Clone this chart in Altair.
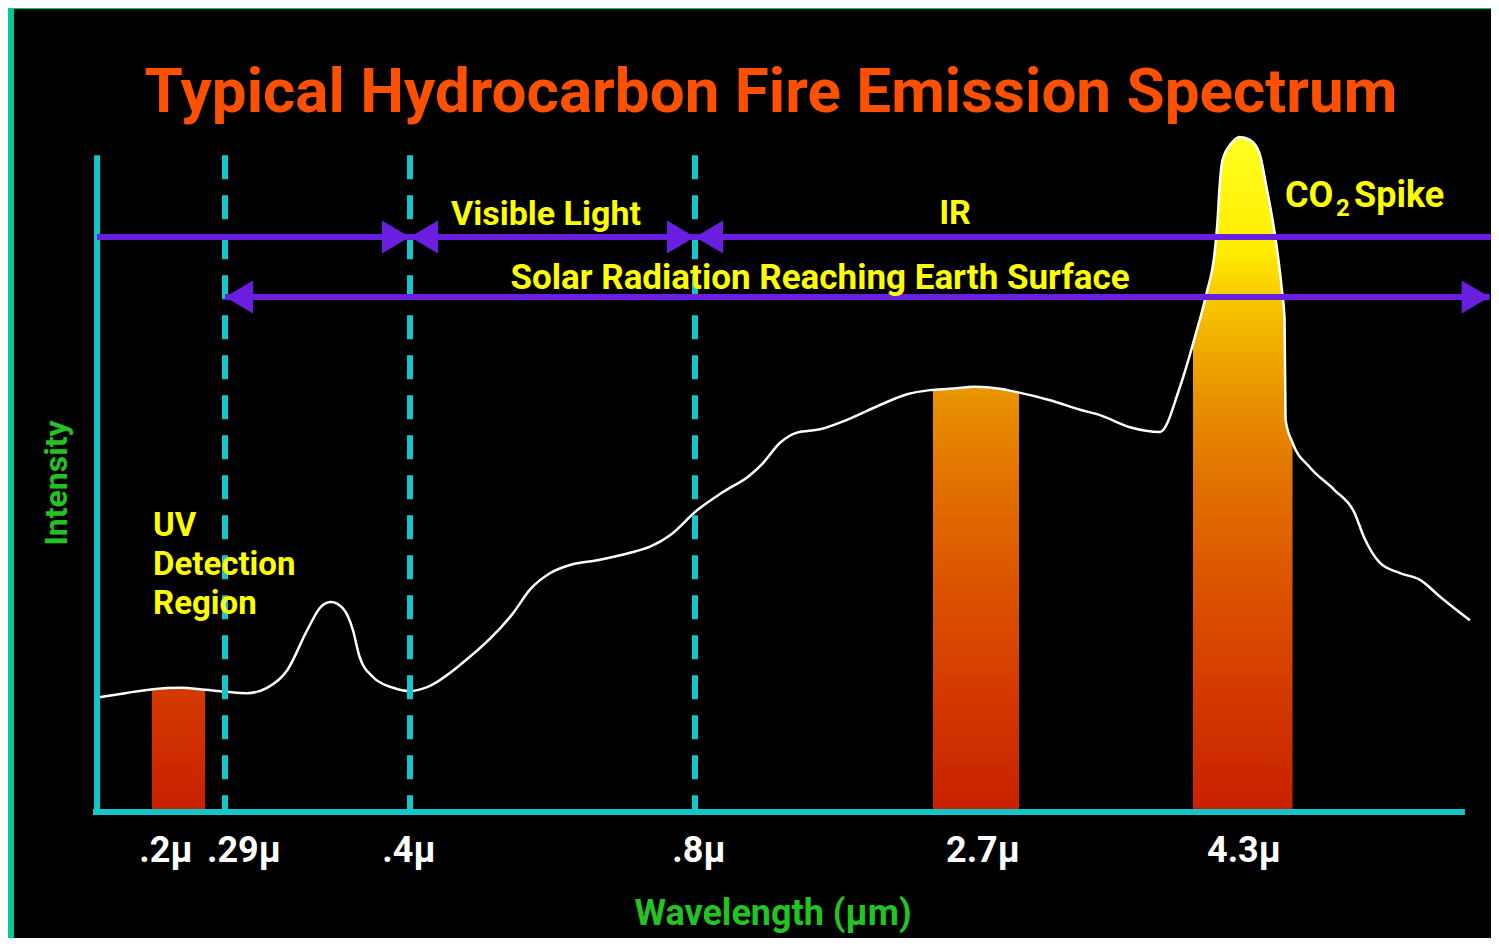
import altair as alt
import pandas as pd

# ---------------- data ----------------
tick_wl = [0.2, 0.29, 0.4, 0.8, 2.7, 4.3]
tick_labels = [".2μ", ".29μ", ".4μ", ".8μ", "2.7μ", "4.3μ"]
boundary_wl = [0.29, 0.4, 0.8]

curve_wl = [0.049, 0.099, 0.152, 0.204, 0.252, 0.291, 0.303, 0.315, 0.327, 0.339,
            0.347, 0.353, 0.360, 0.366, 0.370, 0.378, 0.390, 0.400, 0.424, 0.474,
            0.545, 0.568, 0.597, 0.625, 0.663, 0.709, 0.737, 0.765, 0.814, 0.989,
            1.172, 1.260, 1.375, 1.490, 1.645, 1.828, 2.051, 2.234, 2.389, 2.524,
            2.693, 2.844, 2.947, 3.145, 3.326, 3.446, 3.626, 3.807, 3.927, 4.017,
            4.087, 4.135, 4.153, 4.165, 4.183, 4.237, 4.285, 4.345, 4.405, 4.447,
            4.484, 4.514, 4.538, 4.556, 4.562, 4.604, 4.706, 4.856, 4.977, 5.034,
            5.130, 5.250, 5.371, 5.491, 5.671]
curve_int = [17.0, 17.6, 18.2, 18.4, 18.1, 17.8, 17.6, 18.4, 21.0, 27.0,
             30.4, 31.1, 30.2, 27.0, 23.0, 20.0, 18.4, 17.9, 18.5, 22.1,
             29.5, 32.9, 35.4, 36.6, 37.3, 38.4, 39.3, 41.0, 44.7, 47.4,
             49.9, 51.7, 54.7, 56.2, 56.7, 58.1, 60.3, 61.9, 62.5, 62.7,
             63.0, 62.7, 62.2, 61.0, 59.6, 58.8, 57.0, 56.3, 63.0, 70.4,
             76.9, 82.8, 87.7, 92.6, 96.6, 99.1, 100.0, 99.6, 97.6, 92.6,
             87.7, 82.8, 77.8, 72.9, 58.1, 54.7, 51.1, 47.7, 44.3, 40.7,
             36.9, 35.4, 34.4, 31.9, 28.4]

# detection bands (area under the curve inside each band)
uv_band_wl = [0.150, 0.204, 0.252]
uv_band_int = [18.2, 18.4, 18.1]
ir_band_wl = [2.409, 2.524, 2.693, 2.844, 2.959]
ir_band_int = [62.5, 62.7, 63.0, 62.7, 62.1]
co2_band_wl = [4.005, 4.087, 4.135, 4.153, 4.165, 4.183, 4.237, 4.285, 4.345, 4.405,
               4.447, 4.484, 4.514, 4.538, 4.556, 4.562, 4.604]
co2_band_int = [69.9, 76.9, 82.8, 87.7, 92.6, 96.6, 99.1, 100.0, 99.6, 97.6,
                92.6, 87.7, 82.8, 77.8, 72.9, 58.1, 54.7]

# range arrows: [start wl, end wl, level]
range_start = [0.045, 0.29]
range_end = [5.798, 5.79]
range_level = [85.2, 76.3]
# arrow heads
head_right_wl = [0.4, 0.8, 5.79]
head_right_lvl = [85.2, 85.2, 76.3]
head_left_wl = [0.4, 0.8, 0.29]
head_left_lvl = [85.2, 85.2, 76.3]

# axis line extents
xaxis_wl = [0.037, 5.641]
yaxis_wl = 0.045
axis_top = 97.3

# ---------------- styling ----------------
FONT = "Roboto, Liberation Sans, sans-serif"
TEAL = "#14c6c8"
PURPLE = "#6a1ee0"
YELLOW = "#ffff00"
GREEN = "#22c422"

xs = alt.Scale(domain=tick_wl, range=[164, 211, 396, 681, 962, 1228], nice=False, zero=False)
ys = alt.Scale(domain=[0, 100], range=[803, 128], nice=False, zero=False)

RAMP = [(100, (255, 255, 32)), (83, (255, 236, 0)), (76, (248, 200, 0)), (68, (240, 168, 0)),
        (62, (232, 148, 0)), (50, (226, 116, 0)), (35, (220, 86, 0)), (18, (212, 58, 0)),
        (0, (200, 32, 0))]


def col_at(v):
    for (v1, c1), (v2, c2) in zip(RAMP[:-1], RAMP[1:]):
        if v2 <= v <= v1:
            t = (v1 - v) / (v1 - v2)
            c = [round(a + (b - a) * t) for a, b in zip(c1, c2)]
            return "#%02x%02x%02x" % tuple(c)
    return "#%02x%02x%02x" % RAMP[0][1]


def gradient(vtop):
    stops = [alt.GradientStop(color=col_at(vtop), offset=0)]
    for v, c in RAMP:
        if v < vtop:
            stops.append(alt.GradientStop(color="#%02x%02x%02x" % c, offset=(vtop - v) / vtop))
    return alt.Gradient(gradient="linear", stops=stops, x1=0, x2=0, y1=0, y2=1)


def band(wl, iv):
    df = pd.DataFrame({"wl": wl, "v": iv})
    return alt.Chart(df).mark_area(interpolate="monotone", color=gradient(max(iv)), opacity=1).encode(
        x=alt.X("wl:Q", scale=xs, axis=None), y=alt.Y("v:Q", scale=ys, axis=None))


def txt(s, x, y, size, color, align="center", baseline="alphabetic", angle=0):
    return alt.Chart(pd.DataFrame({"t": [s]})).mark_text(
        font=FONT, fontWeight="bold", fontSize=size, color=color, align=align,
        baseline=baseline, angle=angle).encode(x=alt.value(x), y=alt.value(y), text="t:N")


layers = [band(uv_band_wl, uv_band_int), band(ir_band_wl, ir_band_int), band(co2_band_wl, co2_band_int)]

curve_df = pd.DataFrame({"wl": curve_wl, "v": curve_int})
layers.append(alt.Chart(curve_df).mark_line(interpolate="monotone", color="white", strokeWidth=2.5).encode(
    x=alt.X("wl:Q", scale=xs, axis=None), y=alt.Y("v:Q", scale=ys, axis=None)))

# axes
layers.append(alt.Chart(pd.DataFrame({"a": [xaxis_wl[0]], "b": [xaxis_wl[1]], "v": [0]})).mark_rule(
    color=TEAL, strokeWidth=6, strokeCap="butt").encode(
    x=alt.X("a:Q", scale=xs, axis=None), x2="b:Q", y=alt.Y("v:Q", scale=ys, axis=None)))
layers.append(alt.Chart(pd.DataFrame({"wl": [yaxis_wl], "t": [axis_top], "b": [0]})).mark_rule(
    color=TEAL, strokeWidth=6, strokeCap="butt").encode(
    x=alt.X("wl:Q", scale=xs, axis=None), y=alt.Y("t:Q", scale=ys, axis=None), y2="b:Q"))
# dashed boundaries
layers.append(alt.Chart(pd.DataFrame({"wl": boundary_wl, "t": [axis_top] * 3, "b": [0] * 3})).mark_rule(
    color=TEAL, strokeWidth=6, strokeDash=[24, 16], strokeCap="butt").encode(
    x=alt.X("wl:Q", scale=xs, axis=None), y=alt.Y("t:Q", scale=ys, axis=None), y2="b:Q"))

# range arrows
layers.append(alt.Chart(pd.DataFrame({"a": range_start, "b": range_end, "v": range_level})).mark_rule(
    color=PURPLE, strokeWidth=6, strokeCap="butt").encode(
    x=alt.X("a:Q", scale=xs, axis=None), x2="b:Q", y=alt.Y("v:Q", scale=ys, axis=None)))
layers.append(alt.Chart(pd.DataFrame({"wl": head_right_wl, "v": head_right_lvl})).mark_point(
    shape="M0,0L-1.7,-1L-1.7,1Z", size=1089, filled=True, opacity=1, color=PURPLE, strokeWidth=0).encode(
    x=alt.X("wl:Q", scale=xs, axis=None), y=alt.Y("v:Q", scale=ys, axis=None)))
layers.append(alt.Chart(pd.DataFrame({"wl": head_left_wl, "v": head_left_lvl})).mark_point(
    shape="M0,0L1.7,-1L1.7,1Z", size=1089, filled=True, opacity=1, color=PURPLE, strokeWidth=0).encode(
    x=alt.X("wl:Q", scale=xs, axis=None), y=alt.Y("v:Q", scale=ys, axis=None)))

# tick labels
label_dx = [-12, 19, -1, 4, 7, 2]
for w, lab, d in zip(tick_wl, tick_labels, label_dx):
    layers.append(alt.Chart(pd.DataFrame({"wl": [w], "t": [lab]})).mark_text(
        font=FONT, fontWeight="bold", fontSize=36, color="white", dx=d, baseline="alphabetic").encode(
        x=alt.X("wl:Q", scale=xs, axis=None), y=alt.value(853), text="t:N"))

# annotations
layers += [
    txt("Typical Hydrocarbon Fire Emission Spectrum", 757, 103, 62, "#ff5000"),
    txt("Visible Light", 532, 216, 34, YELLOW),
    txt("IR", 941, 215, 34, YELLOW),
    txt("Solar Radiation Reaching Earth Surface", 806, 280, 35, YELLOW),
    txt("CO", 1271, 198, 36, YELLOW, align="left"),
    txt("2", 1322, 207, 24, YELLOW, align="left"),
    txt("Spike", 1340, 198, 36, YELLOW, align="left"),
    txt("UV", 139, 527, 33, YELLOW, align="left"),
    txt("Detection", 139, 566, 33, YELLOW, align="left"),
    txt("Region", 139, 605, 33, YELLOW, align="left"),
    txt("Wavelength (μm)", 759, 916, 36, GREEN),
    txt("Intensity", 43, 474, 32, GREEN, baseline="middle", angle=270),
]

chart = alt.layer(*layers).properties(
    width=1477, height=929, background="#00c896",
    padding={"left": 6, "top": 1, "right": 0, "bottom": 0},
    autosize=alt.AutoSizeParams(type="none"),
).configure_view(fill="black", strokeWidth=0)

chart.save("out.html", embed_options={"renderer": "svg", "actions": False})
